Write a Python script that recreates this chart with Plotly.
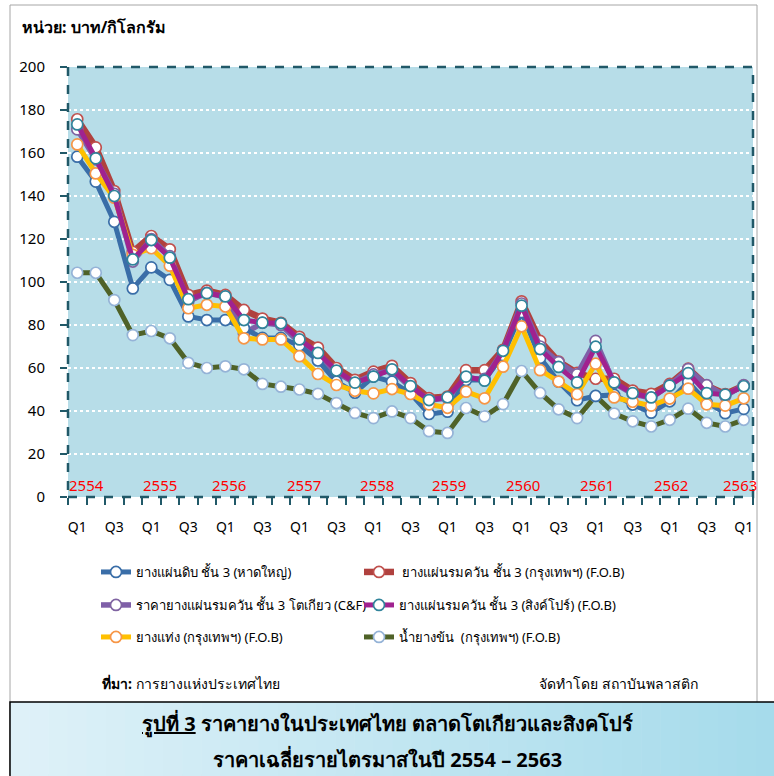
import plotly.graph_objects as go

# ---------------- data ----------------
quarters = ["Q1" if i % 4 == 0 else ("Q3" if i % 4 == 2 else ("Q2" if i % 4 == 1 else "Q4")) for i in range(37)]
years = ["2554", "2555", "2556", "2557", "2558", "2559", "2560", "2561", "2562", "2563"]

uss3_hatyai = [158.3, 146.7, 128, 97, 106.8, 101, 84, 82.3, 82.3, 78.5, 74, 74, 70.5, 63.5, 53.6, 48.5,
               56, 53.6, 48.2, 38.6, 39.7, 54.4, 54.4, 66, 86, 64.7, 53.6, 45, 47, 47.5, 43, 39.2,
               44.5, 53.5, 44, 39, 41]
rss3_bkk = [175.7, 162.6, 142.3, 114, 121.4, 115.2, 94, 96, 94, 87, 83, 81, 74.5, 69.5, 60, 54.5,
            58.3, 61, 53, 46, 46.7, 59, 59, 68.5, 91, 72.6, 63, 57.7, 55, 55, 49.5, 48, 52.6,
            59.7, 51.8, 47.9, 51.8]
rss3_tokyo = [171, 157, 141, 109.5, 120, 112, 91, 95, 93, 76, 81, 80, 72, 64, 58, 53, 57, 59, 51,
              45, 46, 55, 55, 68, 90, 70, 62.7, 57, 72.6, 53, 48, 46, 52, 59.5, 52, 47, 52]
rss3_sg = [173.3, 157.5, 140, 110.5, 119.5, 111.3, 92, 94.8, 93.3, 82.3, 81.1, 80.8, 73.3, 67, 58.8,
           53.2, 56, 59.4, 51.6, 45.1, 46.4, 56, 54.1, 68, 89, 68.8, 60.5, 53.3, 69.9, 53.3, 48.3,
           46.3, 51.8, 57.6, 48.3, 47.6, 51.5]
str20_bkk = [164, 150.5, 139.2, 112.6, 115.7, 107.6, 87.8, 89.4, 88.6, 73.8, 73.3, 73.3, 65.5, 57.2,
             52.1, 49.4, 48.2, 50.2, 47.9, 43.1, 41.5, 49, 45.9, 60.6, 79.4, 59, 53.7, 47.8, 62,
             46.3, 44.3, 42.5, 45.8, 50.4, 43.1, 42.5, 45.9]
latex_bkk = [104.3, 104.3, 91.6, 75.3, 77.2, 73.8, 62.4, 60, 60.8, 59.4, 52.6, 51.3, 50, 48, 43.7,
             39.1, 36.7, 39.8, 36.7, 30.6, 29.8, 41.4, 37.5, 43.2, 58.6, 48.4, 40.8, 36.7, 47, 38.8,
             35.2, 32.8, 35.9, 41.1, 34.5, 32.8, 35.9]

names = {
    "blue": "ยางแผ่นดิบ ชั้น 3 (หาดใหญ่)",
    "red": " ยางแผ่นรมควัน ชั้น 3 (กรุงเทพฯ) (F.O.B)",
    "purple": "ราคายางแผ่นรมควัน ชั้น 3 โตเกียว (C&F)",
    "magenta": "ยางแผ่นรมควัน ชั้น 3 (สิงค์โปร์) (F.O.B)",
    "yellow": "ยางแท่ง (กรุงเทพฯ) (F.O.B)",
    "green": "น้ำยางข้น  (กรุงเทพฯ) (F.O.B)",
}

FONT = "Tahoma, 'Noto Sans', 'DejaVu Sans', sans-serif"
x = list(range(len(quarters)))

fig = go.Figure()

def add(key, y, color, edge, width, legend):
    fig.add_trace(go.Scatter(
        x=x, y=y, mode="lines+markers", name=names[key],
        line=dict(color=color, width=width),
        marker=dict(size=11, color="white", line=dict(color=edge, width=1.7)),
        legend=legend, showlegend=True, hoverinfo="skip"))

add("green", latex_bkk, "#4F6228", "#95B3D7", 5, "legend6")
add("red", rss3_bkk, "#B0413E", "#C0504D", 6.5, "legend2")
add("purple", rss3_tokyo, "#7F5FA8", "#8064A2", 5.5, "legend3")
add("blue", uss3_hatyai, "#3A6EA8", "#3A6EA8", 5, "legend")
add("yellow", str20_bkk, "#FFC000", "#F79646", 5, "legend5")
add("magenta", rss3_sg, "#A0228F", "#31849B", 5, "legend4")

# year labels inside plot
year_pos = [0.5, 4.47, 8.2, 12.25, 16.2, 20.1, 24.1, 28.05, 32.05, 35.8]
for yr, xp in zip(years, year_pos):
    fig.add_annotation(x=xp, y=0, yref="y", text=yr, showarrow=False, yanchor="bottom",
                       yshift=0, font=dict(color="#FF0000", size=15, family=FONT))

tickvals = [i for i in x if i % 2 == 0]
ticktext = [quarters[i] for i in tickvals]

fig.update_xaxes(range=[-0.5, 36.5], tickvals=tickvals, ticktext=ticktext, ticks="",
                 showgrid=False, zeroline=False, showline=False, ticklabelstandoff=20,
                 tickfont=dict(size=14, color="black", family=FONT),
                 minor=dict(tickvals=[i - 0.5 for i in range(38)], ticks="outside", ticklen=7,
                            tickcolor="#215968", tickwidth=1.5, showgrid=False))
fig.update_yaxes(range=[0, 200], dtick=20, ticks="outside", ticklen=7, tickcolor="#215968",
                 tickwidth=1.5, showgrid=True, gridcolor="white", griddash="dot", gridwidth=2,
                 zeroline=False, showline=False, ticklabelstandoff=12,
                 tickfont=dict(size=15, color="black", family=FONT))

shapes = []
# outer gray frame
shapes.append(dict(type="rect", xref="paper", yref="paper",
                   x0=(10 - 68) / 685, x1=(757 - 68) / 685, y0=(497 - 775) / 430, y1=(497 - 5) / 430,
                   line=dict(color="#A6A6A6", width=1), fillcolor="rgba(0,0,0,0)", layer="below"))
# caption box with a horizontal gradient made of strips
bx0, bx1, by0, by1 = 10, 775, 702, 782
n = 40
c0 = (222, 241, 248)
c1 = (166, 219, 235)
for k in range(n):
    t = k / (n - 1)
    col = tuple(round(c0[j] + (c1[j] - c0[j]) * t) for j in range(3))
    xa = bx0 + (bx1 - bx0) * k / n
    xb = bx0 + (bx1 - bx0) * (k + 1) / n + 0.6
    shapes.append(dict(type="rect", xref="paper", yref="paper",
                       x0=(xa - 68) / 685, x1=(xb - 68) / 685, y0=(497 - by1) / 430, y1=(497 - by0) / 430,
                       line=dict(width=0), fillcolor="rgb(%d,%d,%d)" % col, layer="above"))
shapes.append(dict(type="rect", xref="paper", yref="paper",
                   x0=(bx0 - 68) / 685, x1=(bx1 - 68) / 685, y0=(497 - by1) / 430, y1=(497 - by0) / 430,
                   line=dict(color="black", width=1.5), fillcolor="rgba(0,0,0,0)", layer="above"))
# dashed plot border
shapes.append(dict(type="rect", xref="paper", yref="paper", x0=0, x1=1, y0=0, y1=1,
                   line=dict(color="#215968", width=2.5, dash="dash"), layer="above"))

ann = [
    dict(text="<b>หน่วย: บาท/กิโลกรัม</b>", x=(20 - 68) / 685, y=(497 - 27) / 430, xanchor="left",
         yanchor="middle", font=dict(size=16, color="black")),
    dict(text="<b>ที่มา:</b> การยางแห่งประเทศไทย", x=(100 - 68) / 685, y=(497 - 683) / 430,
         xanchor="left", yanchor="middle", font=dict(size=14, color="black")),
    dict(text="จัดทำโดย สถาบันพลาสติก", x=(700 - 68) / 685, y=(497 - 683) / 430,
         xanchor="right", yanchor="middle", font=dict(size=14, color="black")),
    dict(text="<b><u>รูปที่ 3</u> ราคายางในประเทศไทย ตลาดโตเกียวและสิงคโปร์</b>", x=(387 - 68) / 685,
         y=(497 - 723) / 430, xanchor="center", yanchor="middle", font=dict(size=20, color="black")),
    dict(text="<b>ราคาเฉลี่ยรายไตรมาสในปี 2554 – 2563</b>", x=(387 - 68) / 685,
         y=(497 - 759) / 430, xanchor="center", yanchor="middle", font=dict(size=20, color="black")),
]
for a in ann:
    a.update(xref="paper", yref="paper", showarrow=False)
    a["font"]["family"] = FONT
    fig.add_annotation(**a)

def leg(px, py):
    return dict(orientation="v", xanchor="left", yanchor="middle", itemwidth=30,
                bgcolor="rgba(0,0,0,0)", font=dict(size=13, color="black", family=FONT),
                x=(px - 68) / 685, y=(497 - py) / 430)

fig.update_layout(
    width=774, height=776,
    margin=dict(l=68, r=21, t=67, b=279),
    paper_bgcolor="white", plot_bgcolor="#B7DDE8",
    font=dict(family=FONT, color="black"),
    shapes=shapes, showlegend=True,
    legend=leg(96, 572), legend2=leg(359, 572),
    legend3=leg(96, 605), legend4=leg(359, 605),
    legend5=leg(96, 637), legend6=leg(359, 637),
)

fig.write_html("out.html", config={"displayModeBar": False},
               post_script="document.body.style.margin='0px';document.body.style.overflow='hidden';")
